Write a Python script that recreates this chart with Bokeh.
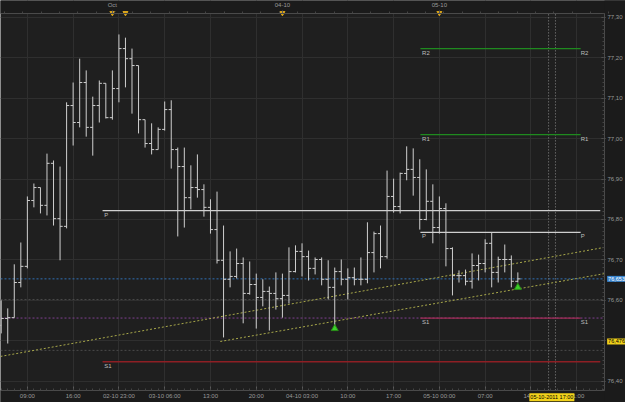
import numpy as np
from bokeh.plotting import figure
from bokeh.models import (ColumnDataSource, Range1d, LinearAxis, FixedTicker,
                          CustomJSTickFormatter, Label)
from bokeh.embed import file_html
from bokeh.resources import INLINE

# ---------------- data (hourly OHLC) ----------------
opens = [76.538, 76.555, 76.557, 76.644, 76.684, 76.847, 76.879, 76.835, 76.939, 76.802,
         76.783, 77.082, 77.040, 77.139, 77.028, 77.082, 77.137, 77.052, 77.124, 77.223,
         77.198, 77.181, 77.047, 76.988, 76.973, 77.023, 77.072, 76.973, 76.931, 76.854,
         76.879, 76.874, 76.830, 76.775, 76.699, 76.652, 76.659, 76.691, 76.617, 76.639,
         76.607, 76.622, 76.617, 76.604, 76.612, 76.671, 76.721, 76.708, 76.679, 76.701,
         76.652, 76.632, 76.671, 76.652, 76.656, 76.652, 76.652, 76.718, 76.765, 76.708,
         76.857, 76.832, 76.914, 76.924, 76.904, 76.800, 76.845, 76.780, 76.827, 76.728,
         76.661, 76.661, 76.647, 76.686, 76.691, 76.741, 76.669, 76.701, 76.701, 76.647]
highs = [76.600, 76.580, 76.689, 76.743, 76.857, 76.889, 76.879, 76.963, 76.946, 76.931,
         77.090, 77.139, 77.198, 77.169, 77.104, 77.144, 77.137, 77.169, 77.258, 77.250,
         77.223, 77.181, 77.047, 77.038, 77.028, 77.092, 77.095, 76.978, 76.978, 76.934,
         76.961, 76.887, 76.850, 76.869, 76.785, 76.721, 76.728, 76.706, 76.696, 76.666,
         76.652, 76.634, 76.669, 76.666, 76.731, 76.736, 76.741, 76.723, 76.706, 76.706,
         76.699, 76.681, 76.701, 76.679, 76.681, 76.706, 76.793, 76.770, 76.785, 76.921,
         76.901, 76.916, 76.981, 76.976, 76.949, 76.924, 76.887, 76.857, 76.840, 76.731,
         76.674, 76.676, 76.716, 76.713, 76.751, 76.768, 76.708, 76.738, 76.711, 76.669]
lows = [76.518, 76.493, 76.557, 76.632, 76.679, 76.830, 76.815, 76.810, 76.785, 76.699,
        76.778, 76.983, 77.028, 77.005, 76.958, 77.040, 77.050, 77.047, 77.090, 77.127,
        77.062, 77.013, 76.978, 76.961, 76.973, 77.020, 76.926, 76.758, 76.780, 76.825,
        76.854, 76.807, 76.765, 76.691, 76.508, 76.632, 76.654, 76.543, 76.614, 76.530,
        76.585, 76.525, 76.577, 76.557, 76.592, 76.669, 76.659, 76.649, 76.664, 76.637,
        76.602, 76.538, 76.637, 76.602, 76.637, 76.637, 76.642, 76.669, 76.679, 76.703,
        76.817, 76.815, 76.897, 76.859, 76.775, 76.798, 76.741, 76.765, 76.684, 76.612,
        76.644, 76.637, 76.629, 76.649, 76.669, 76.632, 76.644, 76.669, 76.632, 76.644]
closes = [76.555, 76.557, 76.644, 76.684, 76.847, 76.879, 76.835, 76.939, 76.802, 76.783,
          77.082, 77.040, 77.139, 77.028, 77.082, 77.137, 77.052, 77.124, 77.223, 77.198,
          77.181, 77.047, 76.988, 76.973, 77.023, 77.072, 76.973, 76.931, 76.854, 76.879,
          76.874, 76.830, 76.775, 76.699, 76.652, 76.659, 76.691, 76.617, 76.639, 76.607,
          76.622, 76.617, 76.604, 76.612, 76.671, 76.721, 76.708, 76.679, 76.701, 76.652,
          76.632, 76.671, 76.652, 76.656, 76.652, 76.652, 76.718, 76.765, 76.708, 76.857,
          76.832, 76.914, 76.924, 76.904, 76.800, 76.845, 76.780, 76.827, 76.728, 76.661,
          76.661, 76.647, 76.686, 76.691, 76.741, 76.669, 76.701, 76.701, 76.647, 76.653]

# bottom time-axis labels (bar index -> label)
time_tick_idx = [4, 11, 18, 25, 32, 39, 46, 53, 60, 67, 74, 81, 88]
time_tick_lbl = ["09:00", "16:00", "02-10 23:00", "03-10 06:00", "13:00", "20:00",
                 "04-10 03:00", "10:00", "17:00", "05-10 00:00", "07:00", "14:00", "21:00"]
# top axis labels
top_tick_idx = [17, 43, 67]
top_tick_lbl = ["Oct", "04-10", "05-10"]
top_marker_idx = [17, 19, 43, 67]

# price axis ticks
price_ticks = [76.4, 76.5, 76.6, 76.7, 76.8, 76.9, 77.0, 77.1, 77.2, 77.3]

# current pivots (drawn on the last session)
pivot_names = ["R2", "R1", "P", "S1"]
pivot_levels = [77.223, 77.010, 76.768, 76.556]
pivot_colors = ["#1f8a1f", "#1f8a1f", "#cfcfcf", "#a02c55"]
pivot_start, pivot_end = 64.1, 88.6
# previous pivots
prev_names = ["P", "S1"]
prev_levels = [76.822, 76.448]
prev_colors = ["#cfcfcf", "#8e1f24"]
prev_start, prev_end = 15.5, 91.6

# channel trendlines
trend_up_x = [-0.11, 92.25]
trend_up_y = [76.461, 76.731]
trend_lo_x = [33.5, 92.25]
trend_lo_y = [76.498, 76.666]

# horizontal level lines
level_vals = [76.653, 76.556, 76.602, 76.476]
level_cols = ["#2f6fb5", "#7e3f8e", "#4a4a4a", "#4a4a4a"]

# signal arrows
arrow_idx = [51, 79]
arrow_val = [76.530, 76.632]

last_price = 76.653
mark_price = 76.476
mark_box_y = 76.498
cursor_idx = [83.7, 84.75]
cursor_label = "05-10-2011 17:00"

# plot-area extents (data units) and full canvas extents
X0, X1 = -0.107, 92.25
Y0, Y1 = 76.377, 77.310
CX1 = 95.46
CY0, CY1 = 76.347, 77.342

# ---------------- figure ----------------
BG = "#1f1f1f"
BAND = "#1b1b1b"
FONT = "Liberation Sans"
TXT = "#9a9a9a"
p = figure(width=625, height=402, output_backend="svg", toolbar_location=None,
           x_range=Range1d(X0, CX1), y_range=Range1d(CY0, CY1),
           x_axis_location=None, y_axis_location=None, min_border=0)
p.background_fill_color = BG
p.border_fill_color = BAND
p.outline_line_color = None

p.xgrid.grid_line_color = "#2f2f2f"
p.ygrid.grid_line_color = "#2f2f2f"
p.xgrid.ticker = FixedTicker(ticks=time_tick_idx)
p.ygrid.ticker = FixedTicker(ticks=price_ticks)

# axis bands (cover grid outside the plot area)
p.quad(left=[X0 - 1, X0 - 1, X1], right=[CX1 + 1, CX1 + 1, CX1 + 1],
       bottom=[Y1, CY0 - 1, CY0 - 1], top=[CY1 + 1, Y0, CY1 + 1],
       fill_color=BAND, line_color=None)

# right price axis
ya = LinearAxis(fixed_location=X1, bounds=(Y0, Y1))
ya.ticker = FixedTicker(ticks=price_ticks,
                        minor_ticks=list(np.round(np.arange(76.38, 77.31, 0.01), 2)))
ya.formatter = CustomJSTickFormatter(code="return tick.toFixed(2).replace('.', ',')")
ya.major_label_text_font_size = "6px"
ya.major_label_text_font = FONT
ya.major_label_text_color = TXT
ya.axis_line_color = "#4a4a4a"
ya.major_tick_line_color = "#5a5a5a"
ya.minor_tick_line_color = "#444444"
ya.major_tick_out = 1
ya.major_tick_in = 3
ya.minor_tick_out = 0
ya.minor_tick_in = 2
ya.major_label_standoff = 2
p.add_layout(ya, "right")

# bottom time axis
xa = LinearAxis(fixed_location=Y0, bounds=(X0, X1))
xa.ticker = FixedTicker(ticks=time_tick_idx, minor_ticks=list(range(0, 93)))
xa.major_label_overrides = dict(zip(time_tick_idx, time_tick_lbl))
xa.major_label_text_font_size = "6px"
xa.major_label_text_font = FONT
xa.major_label_text_color = TXT
xa.axis_line_color = "#4a4a4a"
xa.major_tick_line_color = "#5a5a5a"
xa.minor_tick_line_color = "#444444"
xa.major_tick_in = 4
xa.major_tick_out = 0
xa.minor_tick_in = 2
xa.minor_tick_out = 0
xa.major_label_standoff = 3
p.add_layout(xa, "below")

# top axis
ta = LinearAxis(fixed_location=Y1, bounds=(X0, X1),
                ticker=FixedTicker(ticks=top_tick_idx,
                                   minor_ticks=list(np.arange(0.5, 93, 2.8))))
ta.major_label_overrides = dict(zip(top_tick_idx, top_tick_lbl))
ta.major_label_text_font_size = "6px"
ta.major_label_text_font = FONT
ta.major_label_text_color = TXT
ta.axis_line_color = "#4a4a4a"
ta.major_tick_line_color = "#5a5a5a"
ta.minor_tick_line_color = "#444444"
ta.major_tick_out = 3
ta.major_tick_in = 0
ta.minor_tick_out = 2
ta.minor_tick_in = 0
ta.major_label_standoff = 2
p.add_layout(ta, "above")

# level lines across the plot area
for v, c in zip(level_vals, level_cols):
    p.segment(X0, v, X1, v, line_color=c, line_dash="2 2", line_width=1)

# cursor lines
for cx in cursor_idx:
    p.segment(cx, Y0, cx, Y1, line_color="#8a8a8a", line_dash="1 2", line_width=1)

# trendlines
p.line(trend_up_x, trend_up_y, line_color="#a8a84a", line_dash="2 2", line_width=1)
p.line(trend_lo_x, trend_lo_y, line_color="#a8a84a", line_dash="2 2", line_width=1)

# previous pivots
for n, v, c in zip(prev_names, prev_levels, prev_colors):
    p.segment(prev_start, v, prev_end, v, line_color=c, line_width=1.5 if n == "S1" else 1.2)
    p.add_layout(Label(x=prev_start + 0.25, y=v, text=n, text_font_size="6px", text_font=FONT,
                       text_color="#bdbdbd", text_baseline="top", y_offset=-1))

# current pivots
for n, v, c in zip(pivot_names, pivot_levels, pivot_colors):
    p.segment(pivot_start, v, pivot_end, v, line_color=c, line_width=1.2)
    p.add_layout(Label(x=pivot_start + 0.25, y=v, text=n, text_font_size="6px", text_font=FONT,
                       text_color="#bdbdbd", text_baseline="top", y_offset=-1))
    p.add_layout(Label(x=pivot_end, y=v, text=n, text_font_size="6px", text_font=FONT,
                       text_color="#bdbdbd", text_baseline="top", y_offset=-1))

# OHLC bars
idx = np.arange(len(opens))
src = ColumnDataSource(dict(x=idx, xl=idx - 0.4, xr=idx + 0.4,
                            o=opens, h=highs, l=lows, c=closes))
BAR = "#cfcfcf"
p.segment(x0="x", y0="h", x1="x", y1="l", source=src, line_color=BAR, line_width=1)
p.segment(x0="xl", y0="o", x1="x", y1="o", source=src, line_color=BAR, line_width=1)
p.segment(x0="x", y0="c", x1="xr", y1="c", source=src, line_color=BAR, line_width=1)

# signal arrows
p.scatter(arrow_idx, arrow_val, marker="triangle", size=7, fill_color="#3ccf2a",
          line_color="#2a8f1a")

# top markers (in the top axis band)
p.scatter(top_marker_idx, [Y1 + 0.0012] * len(top_marker_idx), marker="inverted_triangle",
          size=5, fill_color="#d9a41a", line_color="#d9a41a")

# price boxes on the right axis
p.add_layout(Label(x=X1 + 0.4, y=last_price, text="76,653", text_font_size="5.5px",
                   text_font=FONT, text_color="#ffffff", background_fill_color="#3a86d0",
                   text_baseline="middle", text_align="left", padding=1))
p.add_layout(Label(x=X1 + 0.4, y=mark_box_y, text="76,476", text_font_size="5.5px",
                   text_font=FONT, text_color="#000000", background_fill_color="#f2d21b",
                   text_baseline="middle", text_align="left", padding=1))
# cursor time box
p.add_layout(Label(x=84.2, y=(CY0 + Y0) / 2 - 0.002, text=cursor_label, text_font_size="5.5px",
                   text_font=FONT, text_color="#000000", background_fill_color="#f2d21b",
                   text_baseline="middle", text_align="center", padding=1))

open("out.html", "w").write(file_html(p, INLINE))
